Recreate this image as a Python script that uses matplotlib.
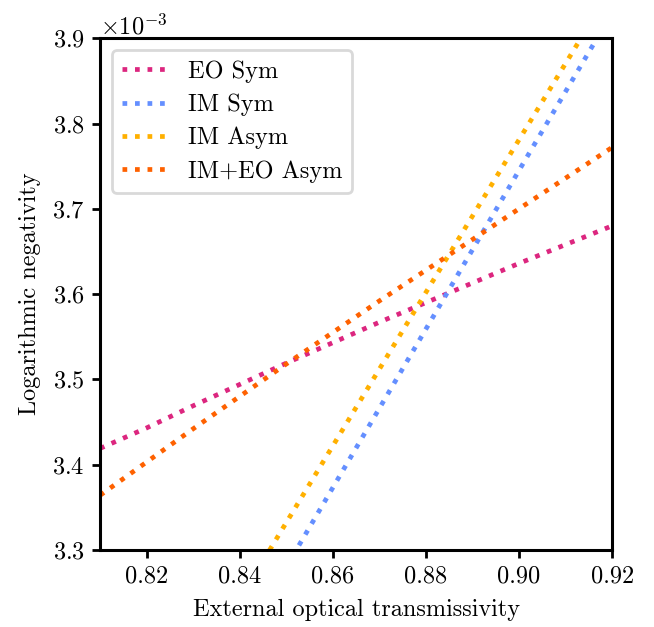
import numpy as np
import matplotlib.pyplot as plt
from matplotlib.ticker import ScalarFormatter

plt.rcParams['font.family'] = 'cmr10'
plt.rcParams['mathtext.fontset'] = 'cm'
plt.rcParams['axes.formatter.use_mathtext'] = True
plt.rcParams['font.size'] = 17.5

# data (y in units of 1e-3)
x_eo_sym = [0.81, 0.82, 0.83, 0.84, 0.85, 0.86, 0.87, 0.88, 0.89, 0.90, 0.91, 0.92]
y_eo_sym = [3.419, 3.443, 3.469, 3.494, 3.519, 3.543, 3.567, 3.590, 3.613, 3.636, 3.658, 3.680]

x_im_sym = [0.85, 0.86, 0.88, 0.90, 0.92]
y_im_sym = [3.280, 3.373, 3.559, 3.745, 3.930]

x_im_asym = [0.845, 0.86, 0.88, 0.90, 0.92]
y_im_asym = [3.287, 3.422, 3.602, 3.781, 3.960]

x_imeo_asym = [0.81, 0.82, 0.83, 0.84, 0.85, 0.86, 0.87, 0.88, 0.89, 0.90, 0.91, 0.92]
y_imeo_asym = [3.364, 3.403, 3.442, 3.480, 3.518, 3.555, 3.592, 3.628, 3.664, 3.700, 3.736, 3.772]

series = [
    ("EO Sym", x_eo_sym, y_eo_sym, "#dc267f"),
    ("IM Sym", x_im_sym, y_im_sym, "#648fff"),
    ("IM Asym", x_im_asym, y_im_asym, "#ffb000"),
    ("IM+EO Asym", x_imeo_asym, y_imeo_asym, "#fe6100"),
]

fig = plt.figure(figsize=(6.54, 6.27), dpi=100)
ax = fig.add_axes([0.153, 0.123, 0.783, 0.816])

for label, xs, ys, c in series:
    ax.plot(xs, np.array(ys) * 1e-3, color=c, lw=3.4, ls=(0, (1, 1.65)), label=label)

ax.set_xlim(0.81, 0.92)
ax.set_ylim(3.3e-3, 3.9e-3)
ax.set_xticks([0.82, 0.84, 0.86, 0.88, 0.90, 0.92])
ax.set_xticklabels(["0.82", "0.84", "0.86", "0.88", "0.90", "0.92"])

fmt = ScalarFormatter(useMathText=True)
fmt.set_powerlimits((-2, 2))
ax.yaxis.set_major_formatter(fmt)
ax.yaxis.get_offset_text().set_fontsize(17.5)

for s in ax.spines.values():
    s.set_linewidth(2.2)
ax.tick_params(width=2, length=6, labelsize=17.5, pad=5)

ax.set_xlabel("External optical transmissivity", labelpad=8)
ax.set_ylabel("Logarithmic negativity", labelpad=8)

leg = ax.legend(loc="upper left", handlelength=1.9, fancybox=True, framealpha=1,
                edgecolor="#d9d9d9", borderpad=0.4, labelspacing=0.45,
                handletextpad=0.8, fontsize=17.5)
leg.get_frame().set_linewidth(2)

fig.savefig("out.png", dpi=100)
